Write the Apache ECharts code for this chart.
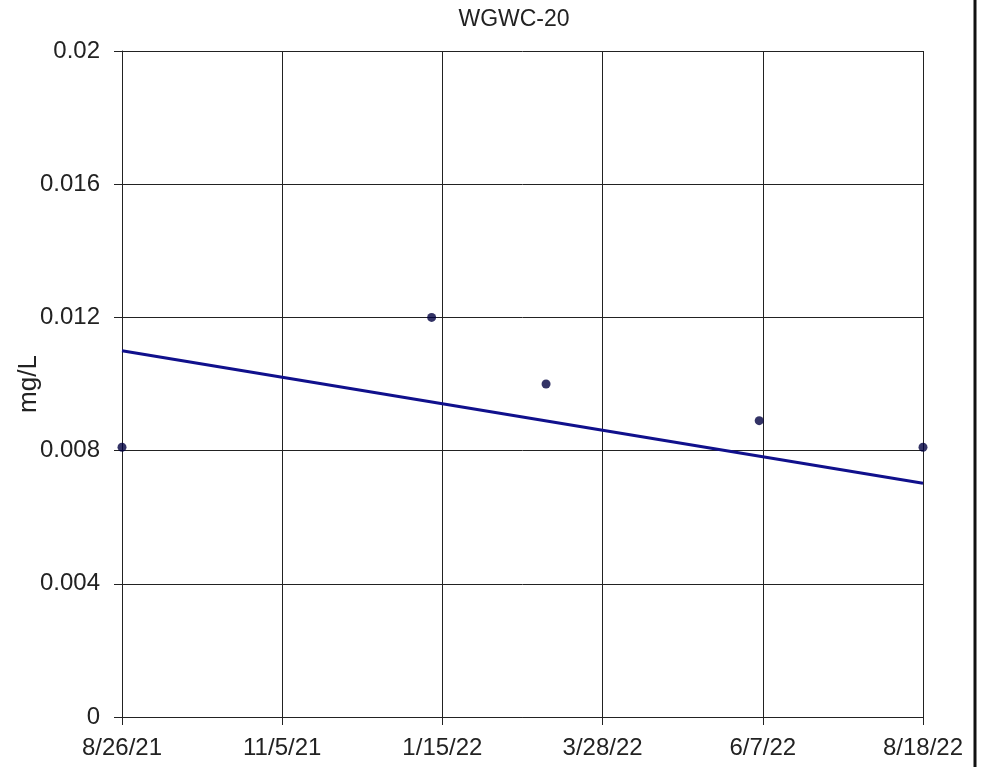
<!DOCTYPE html>
<html>
<head>
<meta charset="utf-8">
<script src="https://cdn.jsdelivr.net/npm/echarts@6/dist/echarts.min.js"></script>
<style>
  html, body { margin: 0; padding: 0; background: #fff; }
  #chart { width: 984px; height: 767px; }
</style>
</head>
<body>
<div id="chart"></div>
<script>
// sample dates and concentrations (mg/L)
const startDate = '2021-08-26'
const sampleDates = ['2021-08-26', '2022-01-11', '2022-03-03', '2022-06-06', '2022-08-18']
const sampleValues = [0.0081, 0.012, 0.01, 0.0089, 0.0081]
// trend line end points
const trendDates = ['2021-08-26', '2022-08-18']
const trendValues = [0.011, 0.00702]
const xTickLabels = ['8/26/21', '11/5/21', '1/15/22', '3/28/22', '6/7/22', '8/18/22']
const yTicks = [0, 0.004, 0.008, 0.012, 0.016, 0.02]

const dayMs = 24 * 3600 * 1000
const toDay = (s) => Math.round((Date.parse(s) - Date.parse(startDate)) / dayMs)
const spanDays = toDay(trendDates[1])
const step = spanDays / (xTickLabels.length - 1)

var myChart = echarts.init(document.getElementById('chart'))
const font = 'Liberation Sans, Arial, sans-serif'
const option = {
    animation: false,
    backgroundColor: '#fff',
    title: {
        text: 'WGWC-20',
        left: 509,
        top: 3,
        textAlign: 'center',
        textStyle: { fontFamily: font, fontSize: 23, fontWeight: 'normal', color: '#222' }
    },
    grid: {
        left: 122,
        right: 61,
        top: 51,
        bottom: 50,
        containLabel: false,
        outerBoundsMode: 'none'
    },
    xAxis: {
        type: 'value',
        min: 0,
        max: spanDays,
        interval: step,
        axisLine: { lineStyle: { color: '#222', width: 1 } },
        axisTick: { length: 8, lineStyle: { color: '#222' } },
        splitLine: { show: true, lineStyle: { color: '#222', width: 1 } },
        axisLabel: {
            margin: 19,
            fontFamily: font,
            fontSize: 24,
            color: '#222',
            formatter: (v) => xTickLabels[Math.round(v / step)]
        }
    },
    yAxis: {
        type: 'value',
        min: yTicks[0],
        max: yTicks[yTicks.length - 1],
        interval: 0.004,
        name: 'mg/L',
        nameLocation: 'middle',
        nameGap: 80,
        nameMoveOverlap: false,
        nameTextStyle: { fontFamily: font, fontSize: 26, color: '#222' },
        axisLine: { show: true, lineStyle: { color: '#222', width: 1 } },
        axisTick: { show: true, length: 8, lineStyle: { color: '#222' } },
        splitLine: { show: true, lineStyle: { color: '#222', width: 1 } },
        axisLabel: {
            margin: 22,
            fontFamily: font,
            fontSize: 24,
            color: '#222',
            formatter: (v) => String(+v.toFixed(3))
        }
    },
    graphic: [
        {
            type: 'line',
            shape: { x1: 975, y1: 0, x2: 975, y2: 767 },
            style: { stroke: '#111', lineWidth: 3 }
        }
    ],
    series: [
        {
            name: 'Trend',
            type: 'line',
            symbol: 'none',
            lineStyle: { color: '#10108c', width: 3 },
            data: trendDates.map((d, i) => [toDay(d), trendValues[i]])
        },
        {
            name: 'Samples',
            type: 'scatter',
            symbolSize: 9,
            itemStyle: { color: '#000040' },
            data: sampleDates.map((d, i) => [toDay(d), sampleValues[i]])
        }
    ]
}
myChart.setOption(option)
</script>
</body>
</html>
